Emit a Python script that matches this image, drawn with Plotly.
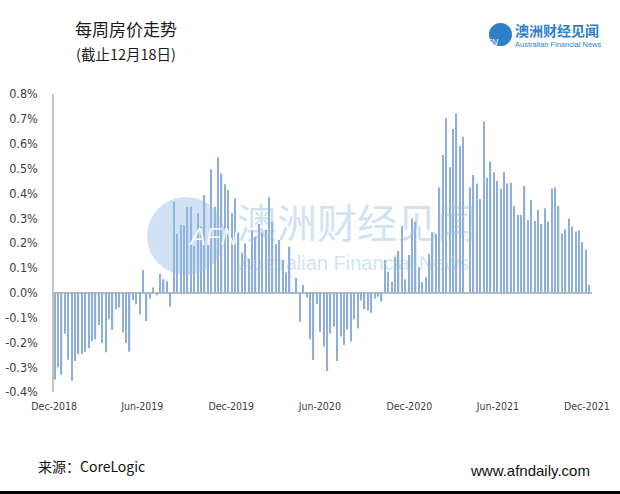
import pandas as pd
import plotly.graph_objects as go

# Weekly change in home values (%), week ending Dec 2018 .. 18 Dec 2021
weekly_change = [
    -0.35, -0.30, -0.33, -0.165, -0.27, -0.355, -0.275, -0.247, -0.247, -0.238,
    -0.224, -0.195, -0.188, -0.13, -0.203, -0.24, -0.107, -0.15, -0.067, -0.06,
    -0.16, -0.203, -0.238, -0.03, -0.047, -0.087, 0.091, -0.114, -0.023, 0.021,
    -0.01, 0.075, 0.054, 0.046, -0.056, 0.366, 0.236, 0.272, 0.27, 0.346,
    0.346, 0.188, 0.32, 0.266, 0.393, 0.201, 0.497, 0.346, 0.545, 0.48,
    0.437, 0.413, 0.32, 0.38, 0.242, 0.161, 0.199, 0.138, 0.25, 0.225,
    0.277, 0.242, 0.252, 0.384, 0.286, 0.196, 0.212, 0.132, 0.081, 0.185,
    -0.005, 0.06, -0.117, 0.031, -0.019, -0.188, -0.271, -0.046, -0.157, -0.217,
    -0.315, -0.164, -0.137, -0.275, -0.177, -0.211, -0.148, -0.197, -0.107, -0.144,
    -0.032, -0.067, -0.072, -0.081, -0.023, -0.016, -0.036, 0.132, 0.085, 0.044,
    0.145, 0.168, 0.268, 0.054, 0.152, 0.299, 0.286, 0.102, 0.043, 0.062,
    0.156, 0.243, 0.236, 0.424, 0.554, 0.702, 0.505, 0.659, 0.722, 0.591,
    0.628, 0.0, 0.424, 0.474, 0.44, 0.377, 0.689, 0.463, 0.528, 0.485,
    0.45, 0.419, 0.485, 0.44, 0.443, 0.349, 0.313, 0.313, 0.43, 0.293,
    0.373, 0.289, 0.333, 0.277, 0.34, 0.286, 0.419, 0.423, 0.349, 0.239,
    0.255, 0.299, 0.266, 0.246, 0.25, 0.203, 0.174, 0.031,
]
week_ending = pd.date_range(end="2021-12-18", periods=len(weekly_change), freq="7D")

tick_dates = ["2018-12-14", "2019-06-13", "2019-12-13", "2020-06-12",
              "2020-12-13", "2021-06-13", "2021-12-13"]
tick_labels = ["Dec-2018", "Jun-2019", "Dec-2019", "Jun-2020",
               "Dec-2020", "Jun-2021", "Dec-2021"]
y_ticks = [-0.4, -0.3, -0.2, -0.1, 0.0, 0.1, 0.2, 0.3, 0.4, 0.5, 0.6, 0.7, 0.8]
y_tick_labels = ["-0.4%", "-0.3%", "-0.2%", "-0.1%", "0.0%", "0.1%", "0.2%",
                 "0.3%", "0.4%", "0.5%", "0.6%", "0.7%", "0.8%"]

title_text = "每周房价走势"
subtitle_text = "(截止12月18日)"
source_text = "来源：CoreLogic"
site_text = "www.afndaily.com"

DAY_MS = 86400000
fig = go.Figure(go.Bar(
    x=week_ending, y=weekly_change,
    width=2.7 * DAY_MS,
    marker=dict(color="#8eaedb", line=dict(width=0)),
))

x0 = week_ending[0] - pd.Timedelta(days=1.4)
x1 = week_ending[-1] + pd.Timedelta(days=5.6)

fig.update_layout(
    width=620, height=494,
    margin=dict(l=54, r=28, t=94, b=102, autoexpand=False),
    paper_bgcolor="white", plot_bgcolor="white",
    showlegend=False,
    font=dict(family="Liberation Sans, Arial, sans-serif", color="#404040"),
    xaxis=dict(
        type="date", range=[x0, x1], automargin=False,
        tickvals=tick_dates, ticktext=tick_labels,
        showgrid=False, zeroline=False, showline=False,
        ticks="", ticklabelstandoff=6,
        tickfont=dict(size=10.5, family="DejaVu Sans Condensed, DejaVu Sans, sans-serif", color="#404040"),
    ),
    yaxis=dict(
        range=[-0.4, 0.8], automargin=False,
        tickvals=y_ticks, ticktext=y_tick_labels,
        showgrid=False, zeroline=True, zerolinecolor="#bcbcbc", zerolinewidth=1.5,
        showline=True, linecolor="#c4c4c4", linewidth=1.5,
        ticks="", ticklabelstandoff=12,
        tickfont=dict(size=12.5, family="DejaVu Sans Condensed, DejaVu Sans, sans-serif", color="#404040"),
    ),
)

wm = "rgba(150,190,228,0.45)"
fig.add_shape(type="circle", xref="paper", yref="paper",
              x0=(147 - 54) / 538, x1=(225 - 54) / 538,
              y0=(392 - 275) / 298, y1=(392 - 197) / 298,
              fillcolor=wm, line=dict(width=0), layer="above")
fig.add_annotation(xref="paper", yref="paper", x=(186 - 54) / 538, y=(392 - 236) / 298,
                   text="<i>AFN</i>", showarrow=False,
                   font=dict(size=24, color="rgba(255,255,255,0.85)", family="Liberation Sans, Arial"))
fig.add_annotation(xref="paper", yref="paper", x=(235 - 54) / 538, y=(392 - 221) / 298,
                   xanchor="left", text="澳洲财经见闻", showarrow=False,
                   font=dict(size=40, color=wm, family="Noto Sans CJK SC"))
fig.add_annotation(xref="paper", yref="paper", x=(237 - 54) / 538, y=(392 - 263) / 298,
                   xanchor="left", text="Australian Financial News", showarrow=False,
                   font=dict(size=20, color=wm, family="Liberation Sans, Arial"))

# header
fig.add_annotation(xref="paper", yref="paper", x=(73 - 54) / 538, y=(392 - 28) / 298,
                   xanchor="left", yanchor="middle", text=title_text, showarrow=False,
                   font=dict(size=17, color="#1a1a1a", family="Noto Sans CJK SC"))
fig.add_annotation(xref="paper", yref="paper", x=(74 - 54) / 538, y=(392 - 54) / 298,
                   xanchor="left", yanchor="middle", text=subtitle_text, showarrow=False,
                   font=dict(size=14.5, color="#1a1a1a", family="Noto Sans CJK SC"))

# logo
fig.add_shape(type="circle", xref="paper", yref="paper",
              x0=(489 - 54) / 538, x1=(512 - 54) / 538,
              y0=(392 - 46) / 298, y1=(392 - 23) / 298,
              fillcolor="#2f7fc8", line=dict(width=0))
fig.add_annotation(xref="paper", yref="paper", x=(500.5 - 54) / 538, y=(392 - 34.5) / 298,
                   text="<i>AFN</i>", showarrow=False,
                   font=dict(size=9, color="white", family="Liberation Sans, Arial"))
fig.add_annotation(xref="paper", yref="paper", x=(514 - 54) / 538, y=(392 - 29.5) / 298,
                   xanchor="left", yanchor="middle", text="<b>澳洲财经见闻</b>", showarrow=False,
                   borderpad=0,
                   font=dict(size=14, color="#2f7fc8", family="Noto Sans CJK SC"))
fig.add_annotation(xref="paper", yref="paper", x=(514 - 54) / 538, y=(392 - 45) / 298,
                   xanchor="left", yanchor="middle", text="Australian Financial News", showarrow=False,
                   borderpad=0,
                   font=dict(size=7.5, color="#2f7fc8", family="Liberation Sans, Arial"))

# footer
fig.add_annotation(xref="paper", yref="paper", x=(36 - 54) / 538, y=(392 - 466) / 298,
                   xanchor="left", yanchor="middle", text=source_text, showarrow=False,
                   font=dict(size=14, color="#111111", family="Noto Sans CJK SC"))
fig.add_annotation(xref="paper", yref="paper", x=(592 - 54) / 538, y=(392 - 470) / 298,
                   xanchor="right", yanchor="middle", text=site_text, showarrow=False,
                   font=dict(size=15, color="#111111", family="Liberation Sans, Arial"))
fig.add_shape(type="rect", xref="paper", yref="paper",
              x0=-54 / 538, x1=(620 - 54) / 538,
              y0=(392 - 494) / 298, y1=(392 - 491) / 298,
              fillcolor="black", line=dict(width=0))

fig.write_html("out.html", config={"displayModeBar": False},
               post_script="document.body.style.margin='0';document.body.style.overflow='hidden';")
